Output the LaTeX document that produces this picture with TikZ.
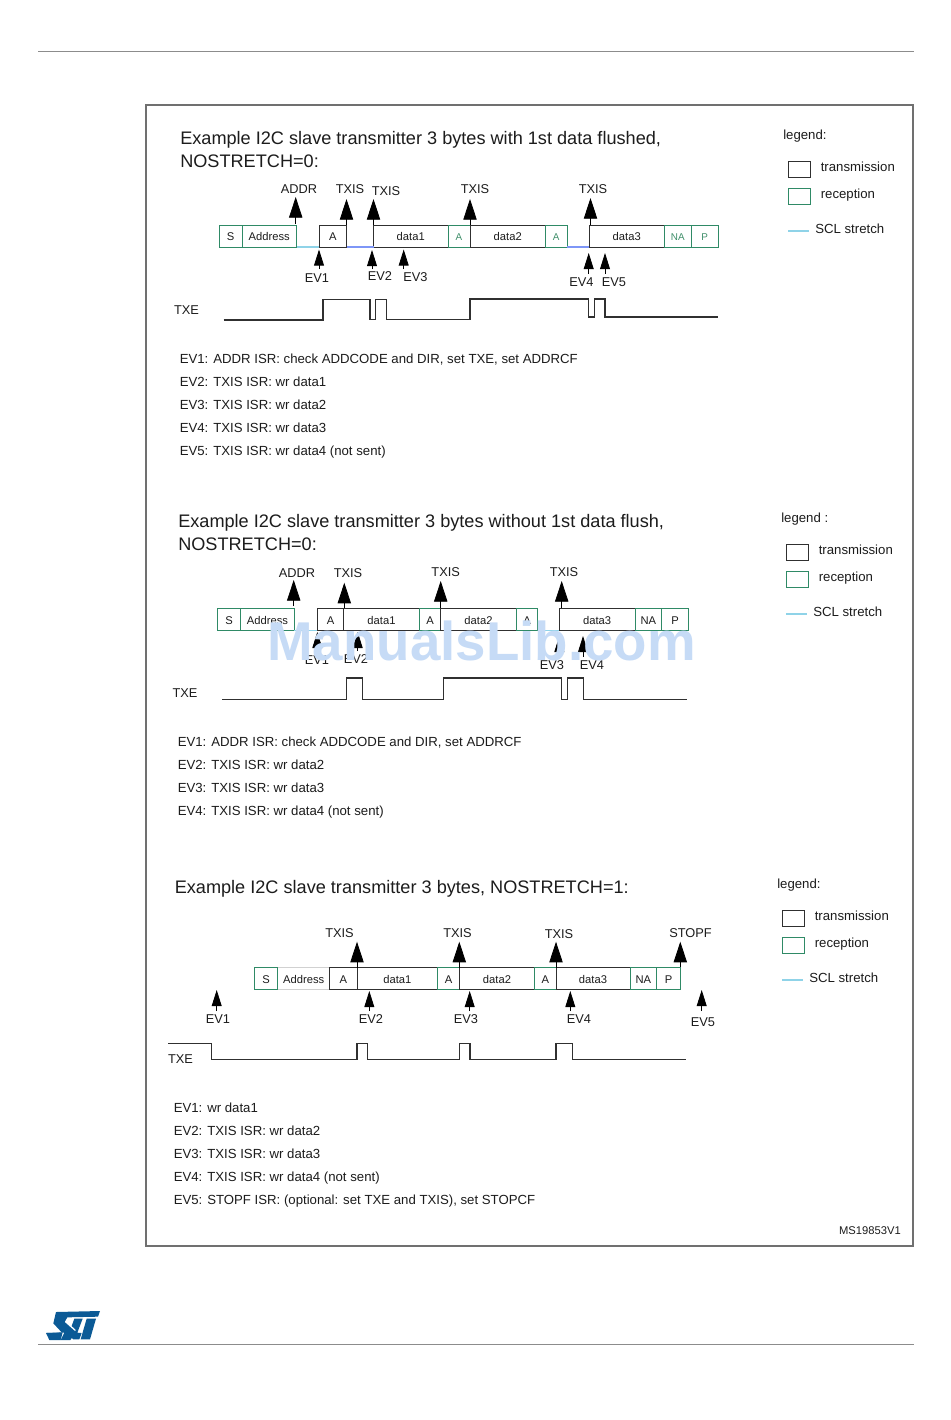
\documentclass[tikz,border=0pt]{standalone}
\usepackage{fontspec}
\setmainfont{Liberation Sans}
\usetikzlibrary{arrows.meta}
\definecolor{rx}{HTML}{2F8A66}
\definecolor{rxt}{HTML}{3F8F6A}
\definecolor{tx}{HTML}{303030}
\definecolor{stretch}{HTML}{8FD3E8}
\definecolor{fr}{HTML}{707070}
\definecolor{wm}{HTML}{C6DBF6}
\definecolor{stblue}{HTML}{0B5A96}
\definecolor{ink}{HTML}{1C1C1C}
\tikzset{
  x=0.75pt,y=-0.75pt,
  fld/.style={inner sep=0pt,outer sep=0pt,line width=0.75pt,font=\fontsize{8.4pt}{10pt}\selectfont,text=ink,text height=0.72em,text depth=0pt},
  txf/.style={fld,draw=tx},
  rxf/.style={fld,draw=rx},
  rxg/.style={rxf,text=rxt,font=\fontsize{7.4pt}{9pt}\selectfont},
  adr/.style={fld,draw=black!18},
  lab/.style={inner sep=0pt,font=\fontsize{9.6pt}{11pt}\selectfont,text=ink,text height=0.72em,text depth=0pt},
  body/.style={inner sep=0pt,anchor=west,font=\fontsize{9.9pt}{12pt}\selectfont,text=ink,text height=0.72em,text depth=0pt},
  ttl/.style={inner sep=0pt,anchor=west,font=\fontsize{13.6pt}{16pt}\selectfont,text=ink,text height=0.72em,text depth=0pt},
  leg/.style={body},
  stline/.style={stretch,line width=1pt},
  wave/.style={draw=tx,line width=0.9pt,line join=miter},
  bigarr/.style={-{Triangle[length=15.5pt,width=10pt]},line width=0.6pt,draw=tx,color=black},
  smallarr/.style={-{Triangle[length=12pt,width=7.4pt]},line width=0.6pt,draw=tx,color=black},
  frameln/.style={draw=fr,line width=0.85pt},
  rule/.style={draw=black!45,line width=0.85pt},
}
% name, x1, x2, y1, y2, style, text
\newcommand\fldbox[7]{\node[#6,minimum width={(#3-(#2))*0.75pt},minimum height={(#5-(#4))*0.75pt}] (#1) at ({(#2+#3)/2},{(#4+#5)/2}) {#7};}
% name, x, ystart, ytip, style
\newcommand\evarrow[5]{\coordinate (#1s) at (#2,#3);\coordinate (#1t) at (#2,#4);\draw[#5] (#1s) -- (#1t);}
% legend: prefix, dx, dy, title
\newcommand\legendblock[5]{%
  \node[leg] (#1title) at (#2,#3) {#4};
  \fldbox{#1tx}{#2+5}{#2+27}{#3+26}{#3+42}{txf}{}
  \fldbox{#1rx}{#2+5}{#2+27}{#3+53}{#3+69}{rxf}{}
  \node[leg] (#1txl) at (#2+37.5,#3+32) {transmission};
  \node[leg] (#1rxl) at (#2+37.5,#3+59) {reception};
  \coordinate (#1a) at (#2+5,#3+96);\coordinate (#1b) at (#2+26,#3+96);
  \draw[stline] (#1a) -- (#1b);
  \node[leg] (#1scl) at (#2+32,#3+94) {SCL stretch};}
\begin{document}
\begin{tikzpicture}
\useasboundingbox (0,0) rectangle (950,1420);
\fill[white] (0,0) rectangle (950,1420);
% page furniture
\coordinate (rt1) at (38,51.5);\coordinate (rt2) at (914,51.5);
\coordinate (rb1) at (38,1344.5);\coordinate (rb2) at (914,1344.5);
\draw[rule] (rt1) -- (rt2);
\draw[rule] (rb1) -- (rb2);
\node[frameln,draw,inner sep=0pt,minimum width=575.25pt,minimum height=855.75pt] (frame) at (529.5,675.5) {};
\node[inner sep=0pt,anchor=east,font=\fontsize{8.4pt}{10pt}\selectfont,text=ink] (msid) at (901,1230.5) {MS19853V1};
% logo
\begin{scope}[shift={(20,1290)},x=0.25pt,y=-0.25pt]
\fill[stblue] (108,66) -- (240,63) -- (234,80) -- (142,82) -- (134,96) -- (168,126) -- (151,150) -- (122,150) -- (133,128) -- (78,129) -- (118,128) -- (126,128)-- (100,100) -- cycle;
\fill[stblue] (78,129) -- (128,127) -- (122,150) -- (88,150)-- cycle;
\fill[stblue] (163,86) -- (188,86) -- (172,128) -- (185,129) -- (178,148) -- (160,148) -- (150,140)-- (168,120)-- (155,108) -- cycle;
\fill[stblue] (200,86) -- (228,86) -- (210,148) -- (182,148) -- cycle;
\end{scope}

% ===== Section 1 =====
\node[ttl] (t1a) at (180,140) {Example I2C slave transmitter 3 bytes with 1st data flushed,};
\node[ttl] (t1b) at (180,163) {NOSTRETCH=0:};
\legendblock{la}{783}{135}{legend:}{}
\fldbox{a1s}{219}{242}{225}{247}{rxf}{S}
\fldbox{a1ad}{242}{296.5}{225}{247}{rxf}{Address}
\fldbox{a1a}{319}{346.5}{225}{247}{txf}{A}
\fldbox{a1d1}{373.5}{448}{225}{247}{txf}{data1}
\fldbox{a1a2}{448}{470}{225}{247}{rxg}{A}
\fldbox{a1d2}{470}{545.5}{225}{247}{txf}{data2}
\fldbox{a1a3}{545.5}{567}{225}{247}{rxg}{A}
\fldbox{a1d3}{589}{664.5}{225}{247}{txf}{data3}
\fldbox{a1na}{664.5}{691}{225}{247}{rxg}{NA}
\fldbox{a1p}{691}{718.5}{225}{247}{rxg}{P}
\draw[stline] (a1ad.south east) -- (a1a.south west);
\draw[stline,stretch!50!blue!70!white] (a1a.south east) -- (a1d1.south west);
\draw[stline,stretch!50!blue!70!white] (a1a3.south east) -- (a1d3.south west);
\evarrow{u11}{295.7}{224}{197}{bigarr}
\evarrow{u12}{346.5}{225}{199}{bigarr}
\evarrow{u13}{373.5}{225}{199}{bigarr}
\evarrow{u14}{470}{225}{199}{bigarr}
\evarrow{u15}{590.5}{225}{198}{bigarr}
\node[lab] (l11) at (299,189) {ADDR};
\node[lab] (l12) at (350,189) {TXIS};
\node[lab] (l13) at (386,190.5) {TXIS};
\node[lab] (l14) at (475,189) {TXIS};
\node[lab] (l15) at (593,189) {TXIS};
\evarrow{d11}{319}{269}{249.5}{smallarr}
\evarrow{d12}{372}{269}{250}{smallarr}
\evarrow{d13}{403.7}{269}{249.5}{smallarr}
\evarrow{d14}{588.7}{274}{253}{smallarr}
\evarrow{d15}{605}{274}{253}{smallarr}
\node[lab] (e11) at (317,277.5) {EV1};
\node[lab] (e12) at (380,275.5) {EV2};
\node[lab] (e13) at (415.5,276.5) {EV3};
\node[lab] (e14) at (581.5,281.5) {EV4};
\node[lab] (e15) at (614,281.5) {EV5};
\node[lab] (x1) at (186.5,309.5) {TXE};
\draw[wave] (223.5,320) -- (323,320) -- (323,299.7) -- (370,299.7) -- (370,319.7) -- (375.5,319.7) -- (375.5,299.7) -- (386.5,299.7) -- (386.5,319.7) -- (470,319.7) -- (470,299) -- (588.5,299) -- (588.5,317) -- (594.5,317) -- (594.5,299) -- (605,299) -- (605,317) -- (718,317);
\node[body] (b11) at (179.5,358.5) {EV1: ADDR ISR: check ADDCODE and DIR, set TXE, set ADDRCF};
\node[body] (b12) at (179.5,381.5) {EV2: TXIS ISR: wr data1};
\node[body] (b13) at (179.5,404.5) {EV3: TXIS ISR: wr data2};
\node[body] (b14) at (179.5,427.5) {EV4: TXIS ISR: wr data3};
\node[body] (b15) at (179.5,450.5) {EV5: TXIS ISR: wr data4 (not sent)};

% ===== Section 2 =====
\node[ttl] (t2a) at (178,523) {Example I2C slave transmitter 3 bytes without 1st data flush,};
\node[ttl] (t2b) at (178,546) {NOSTRETCH=0:};
\legendblock{lb}{781}{518}{legend :}{}
\fldbox{a2s}{217.3}{240.7}{608.5}{630.3}{rxf}{S}
\fldbox{a2ad}{240.7}{294.3}{608.5}{630.3}{rxf}{Address}
\fldbox{a2a}{317.3}{343.7}{608.5}{630.3}{txf}{A}
\fldbox{a2d1}{343.7}{419.3}{608.5}{630.3}{txf}{data1}
\fldbox{a2a2}{419.3}{440.7}{608.5}{630.3}{rxf}{A}
\fldbox{a2d2}{440.7}{516.3}{608.5}{630.3}{txf}{data2}
\fldbox{a2a3}{516.3}{537.7}{608.5}{630.3}{rxf}{A}
\fldbox{a2d3}{559.3}{635}{608.5}{630.3}{txf}{data3}
\fldbox{a2na}{635}{661.7}{608.5}{630.3}{rxf}{NA}
\fldbox{a2p}{661.7}{688.3}{608.5}{630.3}{rxf}{P}
\draw[stline] (a2ad.south east) -- (a2a.south west);
\draw[stline] (a2a3.south east) -- (a2d3.south west);
\evarrow{u21}{293.7}{606}{580}{bigarr}
\evarrow{u22}{344.3}{608}{582.7}{bigarr}
\evarrow{u23}{440.7}{608}{581}{bigarr}
\evarrow{u24}{561.7}{608}{581}{bigarr}
\node[lab] (l21) at (297,572.5) {ADDR};
\node[lab] (l22) at (348,572.5) {TXIS};
\node[lab] (l23) at (445.7,571.5) {TXIS};
\node[lab] (l24) at (564,571.5) {TXIS};
\evarrow{d21}{317.3}{651}{632}{smallarr}
\evarrow{d22}{357.7}{651}{632}{smallarr}
\evarrow{d23}{559.3}{657}{636}{smallarr}
\evarrow{d24}{583}{657}{636}{smallarr}
\node[lab] (e21) at (317,660) {EV1};
\node[lab] (e22) at (356,659) {EV2};
\node[lab] (e23) at (552,664.5) {EV3};
\node[lab] (e24) at (592,664.5) {EV4};
\node[lab] (x2) at (185,692.5) {TXE};
\draw[wave] (222,699.7) -- (346.5,699.7) -- (346.5,678) -- (362.5,678) -- (362.5,699.7) -- (443.5,699.7) -- (443.5,678) -- (561.5,678) -- (561.5,699.7) -- (567.5,699.7) -- (567.5,678) -- (583.5,678) -- (583.5,699.7) -- (686.5,699.7);
\node[body] (b21) at (177.5,741.5) {EV1: ADDR ISR: check ADDCODE and DIR, set ADDRCF};
\node[body] (b22) at (177.5,764.5) {EV2: TXIS ISR: wr data2};
\node[body] (b23) at (177.5,787.5) {EV3: TXIS ISR: wr data3};
\node[body] (b24) at (177.5,810.5) {EV4: TXIS ISR: wr data4 (not sent)};

% ===== Section 3 =====
\node[ttl] (t3a) at (174.5,889) {Example I2C slave transmitter 3 bytes, NOSTRETCH=1:};
\legendblock{lc}{777}{884}{legend:}{}
\fldbox{a3ad}{277.7}{329.7}{967.7}{989.3}{adr}{Address}
\fldbox{a3s}{254.3}{277.7}{967.7}{989.3}{rxf}{S}
\fldbox{a3a}{329.7}{357}{967.7}{989.3}{txf}{A}
\fldbox{a3d1}{357}{437.7}{967.7}{989.3}{txf}{data1}
\fldbox{a3a2}{437.7}{459.3}{967.7}{989.3}{rxf}{A}
\fldbox{a3d2}{459.3}{534.7}{967.7}{989.3}{txf}{data2}
\fldbox{a3a3}{534.7}{556}{967.7}{989.3}{rxf}{A}
\fldbox{a3d3}{556}{630}{967.7}{989.3}{txf}{data3}
\fldbox{a3na}{630}{656.7}{967.7}{989.3}{rxf}{NA}
\fldbox{a3p}{656.7}{680.3}{967.7}{989.3}{rxf}{P}
\evarrow{u31}{357}{968}{941.7}{bigarr}
\evarrow{u32}{459.3}{968}{941.7}{bigarr}
\evarrow{u33}{556}{968}{941.7}{bigarr}
\evarrow{u34}{680.3}{967}{941.7}{bigarr}
\node[lab] (l31) at (339.5,932.5) {TXIS};
\node[lab] (l32) at (457.5,932.5) {TXIS};
\node[lab] (l33) at (559,933.5) {TXIS};
\node[lab] (l34) at (690.5,932.5) {STOPF};
\evarrow{d31}{216.7}{1011}{990}{smallarr}
\evarrow{d32}{369.3}{1011}{991}{smallarr}
\evarrow{d33}{469.7}{1011}{991}{smallarr}
\evarrow{d34}{570.3}{1011}{991}{smallarr}
\evarrow{d35}{701.7}{1011}{990}{smallarr}
\node[lab] (e31) at (218,1018.5) {EV1};
\node[lab] (e32) at (371,1018.5) {EV2};
\node[lab] (e33) at (466,1018.5) {EV3};
\node[lab] (e34) at (579,1018.5) {EV4};
\node[lab] (e35) at (703,1021.5) {EV5};
\node[lab] (x3) at (180.5,1058.5) {TXE};
\draw[wave] (168,1043.3) -- (211.5,1043.3) -- (211.5,1059.7) -- (357,1059.7) -- (357,1043.3) -- (367.5,1043.3) -- (367.5,1059.7) -- (459.3,1059.7) -- (459.3,1043.3) -- (470,1043.3) -- (470,1059.7) -- (556,1059.7) -- (556,1043.3) -- (572.7,1043.3) -- (572.7,1059.7) -- (686,1059.7);
\node[body] (b31) at (173.5,1107.5) {EV1: wr data1};
\node[body] (b32) at (173.5,1130.5) {EV2: TXIS ISR: wr data2};
\node[body] (b33) at (173.5,1153.5) {EV3: TXIS ISR: wr data3};
\node[body] (b34) at (173.5,1176.5) {EV4: TXIS ISR: wr data4 (not sent)};
\node[body] (b35) at (173.5,1199.5) {EV5: STOPF ISR: (optional: set TXE and TXIS), set STOPCF};

% watermark
\node[inner sep=0pt,anchor=center,font=\fontsize{41pt}{44pt}\bfseries\selectfont,text=wm,text height=0.72em,text depth=0pt] (wmark) at (481.5,656) {ManualsLib.com};
\end{tikzpicture}
\end{document}
